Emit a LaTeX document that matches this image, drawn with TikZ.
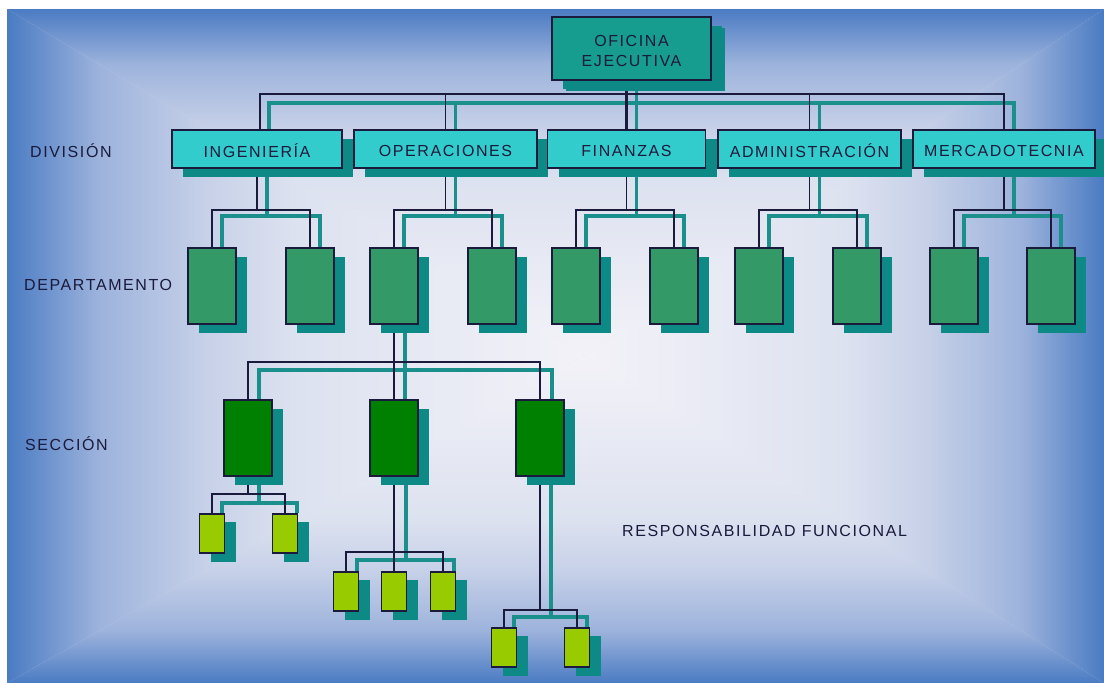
\documentclass[tikz,border=0pt]{standalone}
\usepackage{fontspec}
\newfontfamily\lblfont[LetterSpace=10]{Liberation Sans}
\usetikzlibrary{shadows}
\definecolor{bge}{HTML}{4A7BC3}
\definecolor{bg1}{HTML}{9DB3DC}
\definecolor{bg2}{HTML}{C6D0E8}
\definecolor{bg3}{HTML}{DDE2F0}
\definecolor{bgc}{HTML}{F3F2F8}
\definecolor{ink}{HTML}{1A1A3C}
\definecolor{shd}{HTML}{0E8A86}
\definecolor{tealln}{HTML}{1A8F8C}
\definecolor{topc}{HTML}{179D90}
\definecolor{divc}{HTML}{33CCCC}
\definecolor{depc}{HTML}{339966}
\definecolor{secc}{HTML}{008000}
\definecolor{subc}{HTML}{99CC00}
\pgfdeclareverticalshading{bgshade}{100bp}{color(0bp)=(bgc); color(25bp)=(bgc); color(50bp)=(bg3); color(58bp)=(bg2); color(67bp)=(bg1); color(75bp)=(bge); color(100bp)=(bge)}
\pgfdeclarelayer{bgpanel}
\pgfdeclarelayer{lines}
\pgfsetlayers{bgpanel,lines,main}
\tikzset{
  box/.style={draw=ink, line width=1.5pt, inner sep=0pt, text=ink,
    font=\lblfont\fontsize{16}{20}\selectfont,
    drop shadow={shadow xshift=11pt, shadow yshift=-9pt, fill=shd, opacity=1}},
  topbox/.style={box, fill=topc, minimum width=159pt, minimum height=63pt, align=center,
    drop shadow={shadow xshift=14pt, shadow yshift=-11pt, fill=shd, opacity=1}},
  divbox/.style={box, fill=divc, minimum height=38pt},
  depbox/.style={box, fill=depc, minimum width=48pt, minimum height=76pt},
  secbox/.style={box, fill=secc, minimum width=48pt, minimum height=76pt},
  subbox/.style={box, fill=subc, minimum width=25pt, minimum height=39pt,
    drop shadow={shadow xshift=11pt, shadow yshift=-8pt, fill=shd, opacity=1}},
  blk/.style={draw=ink, line width=1.8pt},
  tl/.style={draw=tealln, line width=3.2pt},
  lbl/.style={anchor=west, inner sep=0pt, text=ink, font=\lblfont\fontsize{16}{20}\selectfont},
}
\begin{document}
\begin{tikzpicture}[x=1pt,y=-1pt]
\useasboundingbox (0,0) rectangle (1104,683);
\begin{pgfonlayer}{bgpanel}
\fill[white] (0,0) rectangle (1104,683);
\coordinate (C) at (585,355);
\fill[bg3] (7,9) rectangle (1104,683);
\shade[shading=bgshade] (7,9) -- (1104,9) -- (C) -- cycle;
\shade[shading=bgshade, shading angle=180] (7,683) -- (1104,683) -- (C) -- cycle;
\shade[shading=bgshade, shading angle=90] (7,9) -- (7,683) -- (C) -- cycle;
\shade[shading=bgshade, shading angle=270] (1104,9) -- (1104,683) -- (C) -- cycle;
\end{pgfonlayer}

% labels
\node[lbl] (lbdiv) at (30,151) {DIVISIÓN};
\node[lbl] (lbdep) at (24,285) {DEPARTAMENTO};
\node[lbl] (lbsec) at (25,444) {SECCIÓN};
\node[lbl] (lbres) at (622,531) {RESPONSABILIDAD FUNCIONAL};

% nodes
\node[topbox] (oe) at (631.5,48.5) {\raisebox{-3.5pt}[\height][\depth]{\begin{tabular}{@{}c@{}}OFICINA\\EJECUTIVA\end{tabular}}};
\node[divbox, minimum width=170pt] (ing) at (257,149) {\raisebox{-1.5pt}[\height][\depth]{INGENIERÍA}};
\node[divbox, minimum width=183pt] (ope) at (445.5,149) {\raisebox{-1.5pt}[\height][\depth]{OPERACIONES}};
\node[divbox, minimum width=158pt] (fin) at (626.5,149) {\raisebox{-1.5pt}[\height][\depth]{FINANZAS}};
\node[divbox, minimum width=183pt] (adm) at (809.5,149) {\raisebox{-1.5pt}[\height][\depth]{ADMINISTRACIÓN}};
\node[divbox, minimum width=182pt] (mer) at (1004,149) {\raisebox{-1.5pt}[\height][\depth]{MERCADOTECNIA}};

\foreach \n/\x in {d1/212, d2/310, d3/394, d4/492, d5/576, d6/674, d7/759, d8/857, d9/954, d10/1051}
  \node[depbox] (\n) at (\x,286) {};

\foreach \n/\x in {s1/248, s2/394, s3/540}
  \node[secbox] (\n) at (\x,438) {};

\foreach \n/\x in {a1/212, a2/285}
  \node[subbox] (\n) at (\x,533.5) {};
\foreach \n/\x in {b1/346, b2/394, b3/443}
  \node[subbox] (\n) at (\x,591.5) {};
\foreach \n/\x in {c1/504, c2/577}
  \node[subbox] (\n) at (\x,647.5) {};

% connectors
\begin{pgfonlayer}{lines}
% teal offset lines
\draw[tl] ([xshift=10pt]fin.north) -- ([xshift=10pt]fin.north |- oe.south);
\draw[tl] ([xshift=12pt]ing.north) |- ([xshift=10pt]mer.north |- 0,103) -- ([xshift=10pt]mer.north);
\foreach \p in {ope, adm}
  \draw[tl] ([xshift=10pt]\p.north) -- ([xshift=10pt]\p.north |- 0,103);
\foreach \p/\a/\b in {ing/d1/d2, ope/d3/d4, fin/d5/d6, adm/d7/d8, mer/d9/d10} {
  \draw[tl] ([xshift=10pt]\a.north) |- ([xshift=10pt]\p.south |- 0,216) -| ([xshift=10pt]\b.north);
  \draw[tl] ([xshift=10pt]\p.south) -- ([xshift=10pt]\p.south |- 0,216);
}
\draw[tl] ([xshift=11pt]d3.south) -- ([xshift=11pt]s2.north);
\draw[tl] ([xshift=11pt]s1.north) |- ([xshift=11pt]s2.north |- 0,370) -| ([xshift=12pt]s3.north);
\draw[tl] ([xshift=11pt]s1.south) -- ([xshift=11pt]s1.south |- 0,503);
\draw[tl] ([xshift=10pt]a1.north) |- ([xshift=11pt]s1.south |- 0,503) -| ([xshift=12pt]a2.north);
\draw[tl] ([xshift=12pt]s2.south) -- ([xshift=12pt]s2.south |- 0,560);
\draw[tl] ([xshift=11pt]b1.north) |- ([xshift=12pt]s2.south |- 0,560) -| ([xshift=11pt]b3.north);
\draw[tl] ([xshift=11pt]s3.south) -- ([xshift=11pt]s3.south |- 0,617);
\draw[tl] ([xshift=10pt]c1.north) |- ([xshift=11pt]s3.south |- 0,617) -| ([xshift=10pt]c2.north);
% black lines
\draw[blk, line width=3pt] ([xshift=-5pt]oe.south) -- (fin.north);
\draw[blk] ([xshift=3pt]ing.north) |- (mer.north |- 0,94) -- (mer.north);
\foreach \p in {ope, adm}
  \draw[blk] (\p.north) -- (\p.north |- 0,94);
\foreach \p/\a/\b in {ing/d1/d2, ope/d3/d4, fin/d5/d6, adm/d7/d8, mer/d9/d10} {
  \draw[blk] (\a.north) |- (\p.south |- 0,210) -| (\b.north);
  \draw[blk] (\p.south) -- (\p.south |- 0,210);
}
\draw[blk] (d3.south) -- (s2.north);
\draw[blk] (s1.north) |- (s2.north |- 0,362) -| (s3.north);
\draw[blk] (s1.south) -- (s1.south |- 0,494);
\draw[blk] (a1.north) |- (s1.south |- 0,494) -| (a2.north);
\draw[blk] (s2.south) -- (b2.north);
\draw[blk] (b1.north) |- (s2.south |- 0,552) -| (b3.north);
\draw[blk] (s3.south) -- (s3.south |- 0,610);
\draw[blk] (c1.north) |- (s3.south |- 0,610) -| (c2.north);
\end{pgfonlayer}
\end{tikzpicture}
\end{document}
